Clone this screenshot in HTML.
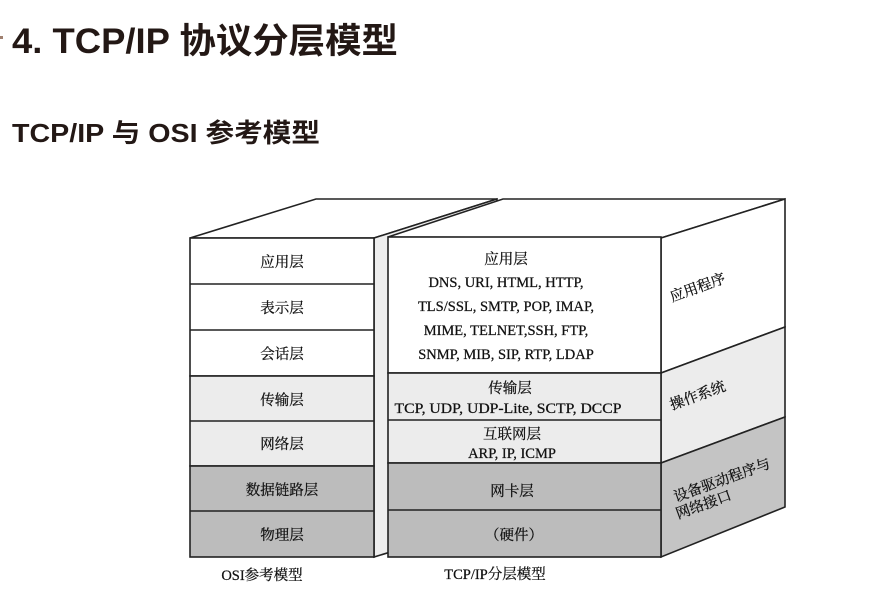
<!DOCTYPE html>
<html><head><meta charset="utf-8"><style>
body{margin:0;width:887px;height:597px;background:#fff;overflow:hidden;font-family:"Liberation Sans","Noto Sans CJK SC",sans-serif;}
</style></head><body>
<svg width="887" height="597" xmlns="http://www.w3.org/2000/svg">
<rect x="0" y="36" width="3" height="3" fill="#a08070"/>
<text x="12" y="53" font-family="Liberation Sans,Noto Sans CJK SC,sans-serif" font-weight="bold" font-size="35" fill="#231815" textLength="386" lengthAdjust="spacingAndGlyphs">4. TCP/IP 协议分层模型</text>
<text x="12" y="142" font-family="Liberation Sans,Noto Sans CJK SC,sans-serif" font-weight="bold" font-size="26" fill="#231815" textLength="308" lengthAdjust="spacingAndGlyphs">TCP/IP 与 OSI 参考模型</text>
<g stroke="#222" stroke-width="1.6" fill="none">
<polygon points="190,238 316,199 497,199 374,238" fill="#fff"/>
<polygon points="374,238 497,199 497,520 374,557" fill="#eee"/>
<rect x="190" y="238" width="184" height="138" fill="#fff"/>
<rect x="190" y="376" width="184" height="90" fill="#ececec"/>
<rect x="190" y="466" width="184" height="91" fill="#bcbcbc"/>
<line x1="190" y1="284" x2="374" y2="284"/>
<line x1="190" y1="330" x2="374" y2="330"/>
<line x1="190" y1="421" x2="374" y2="421"/>
<line x1="190" y1="511" x2="374" y2="511"/>
<polygon points="388,237 503,199 785,199 661,238" fill="#fff"/>
<polygon points="661,238 785,199 785,327 661,373" fill="#fff"/>
<polygon points="661,373 785,327 785,417 661,463" fill="#ececec"/>
<polygon points="661,463 785,417 785,507 661,557" fill="#c4c4c4"/>
<rect x="388" y="237" width="273" height="136" fill="#fff"/>
<rect x="388" y="373" width="273" height="90" fill="#ececec"/>
<rect x="388" y="463" width="273" height="94" fill="#bcbcbc"/>
<line x1="388" y1="420" x2="661" y2="420"/>
<line x1="388" y1="510" x2="661" y2="510"/>
</g>
<g font-family="Liberation Serif,Noto Serif CJK SC,serif" font-size="14.5" fill="#111" stroke="#111" stroke-width="0.25" text-anchor="middle">
<text x="282" y="267">应用层</text>
<text x="282" y="313">表示层</text>
<text x="282" y="359">会话层</text>
<text x="282" y="405">传输层</text>
<text x="282" y="449">网络层</text>
<text x="282" y="495">数据链路层</text>
<text x="282" y="540">物理层</text>
<text x="506" y="264">应用层</text>
<text x="506" y="287">DNS, URI, HTML, HTTP,</text>
<text x="506" y="311">TLS/SSL, SMTP, POP, IMAP,</text>
<text x="506" y="335">MIME, TELNET,SSH, FTP,</text>
<text x="506" y="359">SNMP, MIB, SIP, RTP, LDAP</text>
<text x="510" y="393">传输层</text>
<text x="508" y="413" textLength="227" lengthAdjust="spacingAndGlyphs">TCP, UDP, UDP-Lite, SCTP, DCCP</text>
<text x="512" y="439">互联网层</text>
<text x="512" y="458">ARP, IP, ICMP</text>
<text x="512" y="496">网卡层</text>
<text x="514" y="540">（硬件）</text>
<text x="262" y="580">OSI参考模型</text>
<text x="495" y="579">TCP/IP分层模型</text>
</g>
<g font-family="Liberation Serif,Noto Serif CJK SC,serif" font-size="14.5" fill="#111" stroke="#111" stroke-width="0.25">
<text transform="translate(672,302) rotate(-20)">应用程序</text>
<text transform="translate(672,410) rotate(-20)">操作系统</text>
<text transform="translate(676,502) rotate(-20)">设备驱动程序与</text>
<text transform="translate(678,519) rotate(-20)">网络接口</text>
</g>
</svg>
</body></html>
